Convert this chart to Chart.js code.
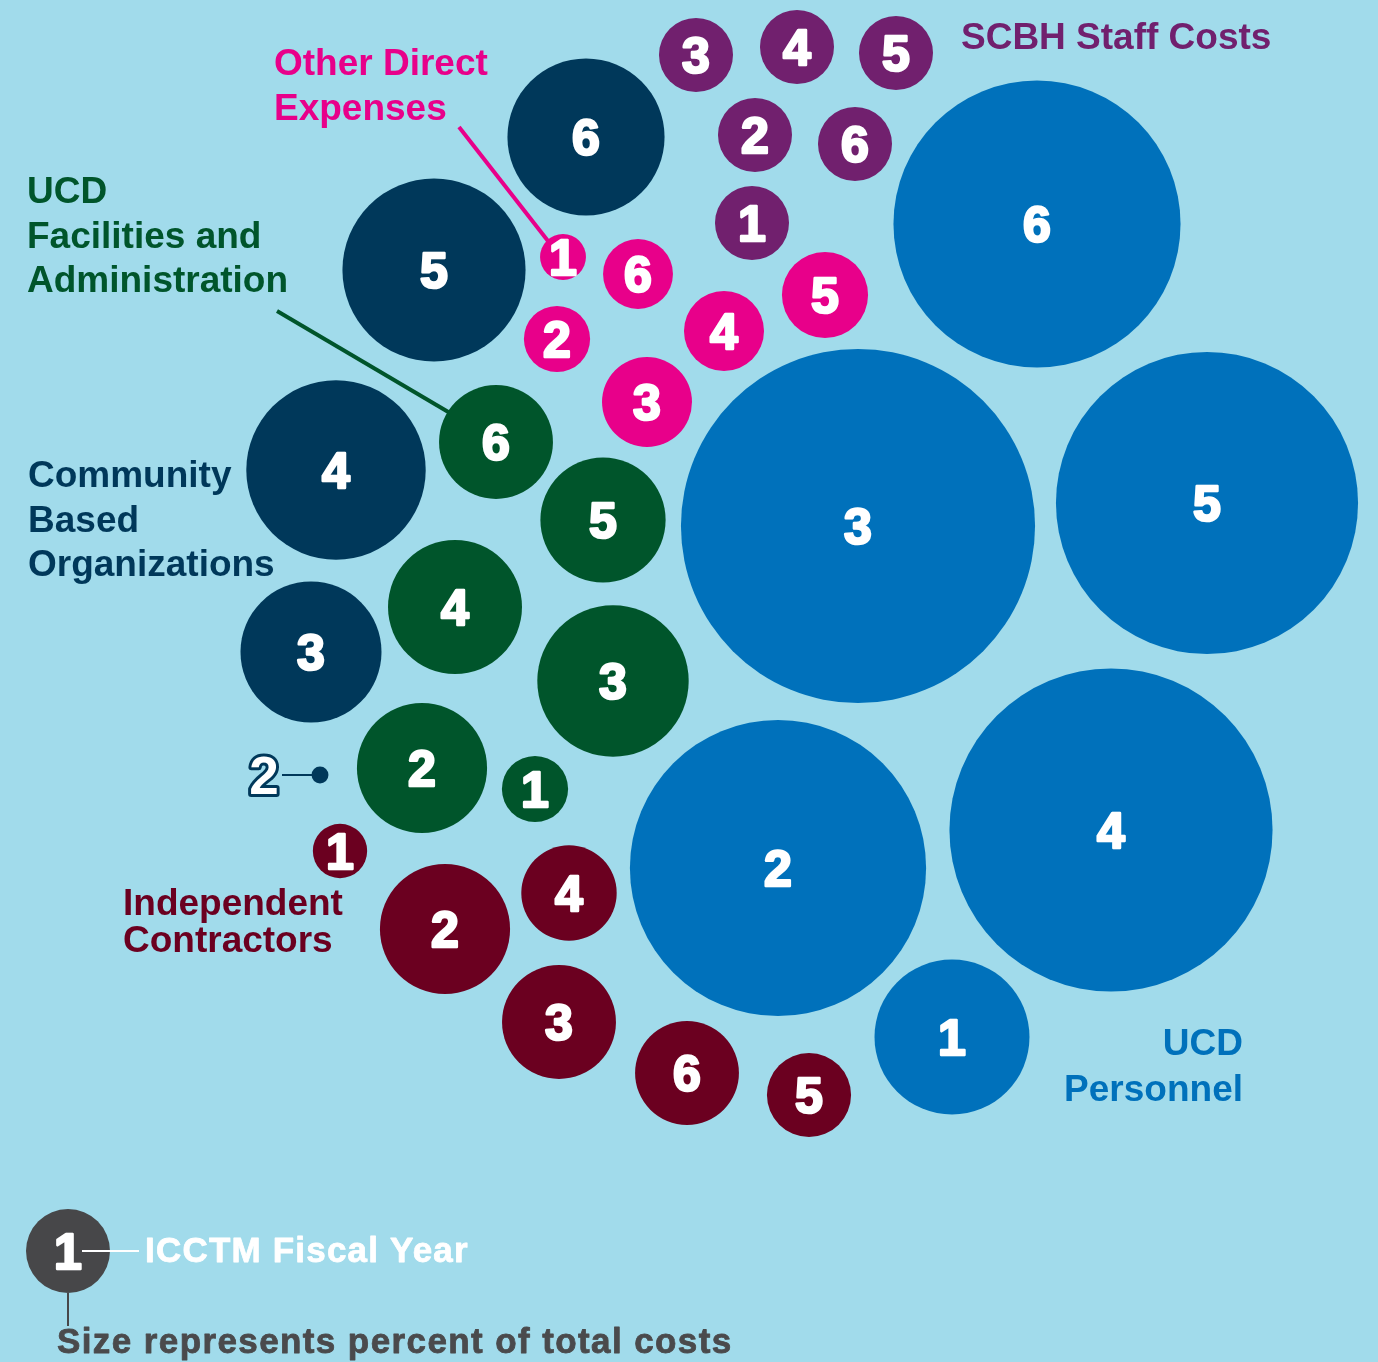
<!DOCTYPE html>
<html>
<head>
<meta charset="utf-8">
<title>ICCTM costs by fiscal year</title>
<script src="https://cdn.jsdelivr.net/npm/chart.js@4.4.1/dist/chart.umd.min.js"></script>
<style>
  html, body { margin: 0; padding: 0; background: #a1dbeb; }
  canvas { display: block; }
</style>
</head>
<body>
<canvas id="bubbles" width="1378" height="1362"></canvas>
<script>
const fiscalYears = ['1', '2', '3', '4', '5', '6'];

// percent of total costs, by fiscal year 1..6 (null = no spending that year)
const ucdPersonnel  = [2.85, 10.41, 14.88, 12.39, 10.83, 9.78];
const scbhStaff     = [0.65, 0.65, 0.65, 0.65, 0.65, 0.65];
const otherDirect   = [0.25, 0.52, 0.96, 0.76, 0.88, 0.58];
const ucdFacilities = [0.52, 2.01, 2.72, 2.13, 1.86, 1.54];
const communityOrgs = [null, 0.034, 2.36, 3.82, 3.98, 2.93];
const contractors   = [0.35, 2.01, 1.54, 1.08, 0.84, 1.28];

// packed layout (layout units, y grows downward), fiscal year 1..6
const ucdPersonnelX  = [952, 778, 858, 1111, 1207, 1037];
const ucdPersonnelY  = [1037, 868, 526, 830, 503, 224];
const scbhStaffX     = [752, 755, 696, 797, 896, 855];
const scbhStaffY     = [223, 135, 55, 47, 53, 144];
const otherDirectX   = [563, 557, 647, 724, 825, 638];
const otherDirectY   = [257, 339, 402, 331, 295, 274];
const ucdFacilitiesX = [535, 422, 613, 455, 603, 496];
const ucdFacilitiesY = [789, 768, 681, 607, 520, 442];
const communityOrgsX = [null, 320, 311, 336, 434, 586];
const communityOrgsY = [null, 775, 652, 470, 270, 137];
const contractorsX   = [340, 445, 559, 569, 809, 687];
const contractorsY   = [851, 929, 1022, 893, 1095, 1073];

const BG = '#a1dbeb';
const AREA_SCALE = 45.9;   // radius = AREA_SCALE * sqrt(percent)
const NUM_SIZE = 50;
const LABEL_FONT = 'bold 37px "Liberation Sans", Arial, sans-serif';

function series(values, xs, ys) {
    const pts = [];
    values.forEach((v, i) => {
        if (v == null) return;
        pts.push({ x: xs[i], y: ys[i], r: AREA_SCALE * Math.sqrt(v), year: fiscalYears[i] });
    });
    return pts;
}

function bubbleSet(label, color, values, xs, ys) {
    return {
        label: label,
        data: series(values, xs, ys),
        backgroundColor: color,
        borderWidth: 0,
        hoverBorderWidth: 0,
        clip: false
    };
}

const datasets = [
    bubbleSet('UCD Personnel', '#0071bb', ucdPersonnel, ucdPersonnelX, ucdPersonnelY),
    bubbleSet('SCBH Staff Costs', '#71206e', scbhStaff, scbhStaffX, scbhStaffY),
    bubbleSet('Other Direct Expenses', '#e8008a', otherDirect, otherDirectX, otherDirectY),
    bubbleSet('UCD Facilities and Administration', '#00552b', ucdFacilities, ucdFacilitiesX, ucdFacilitiesY),
    bubbleSet('Community Based Organizations', '#00385a', communityOrgs, communityOrgsX, communityOrgsY),
    bubbleSet('Independent Contractors', '#6b0020', contractors, contractorsX, contractorsY)
];

// text blocks naming each cost group
const groupLabels = [
    { lines: ['Other Direct', 'Expenses'], x: 274, y: [75, 120], color: '#e8008a', align: 'left' },
    { lines: ['SCBH Staff Costs'], x: 961, y: [49], color: '#71206e', align: 'left' },
    { lines: ['UCD', 'Facilities and', 'Administration'], x: 27, y: [203, 248, 292], color: '#00552b', align: 'left' },
    { lines: ['Community', 'Based', 'Organizations'], x: 28, y: [487, 532, 576], color: '#00385a', align: 'left' },
    { lines: ['Independent', 'Contractors'], x: 123, y: [915, 952], color: '#6b0020', align: 'left' },
    { lines: ['UCD', 'Personnel'], x: 1243, y: [1055, 1101], color: '#0071bb', align: 'right' }
];

const leaders = [
    { from: [459, 127], to: [548, 241], color: '#e8008a' },
    { from: [277, 311], to: [450, 413], color: '#00552b' }
];

function digit(ctx, text, x, y, outline) {
    const size = outline ? 53 : NUM_SIZE;
    ctx.font = 'bold ' + size + 'px "Liberation Sans", Arial, sans-serif';
    ctx.textAlign = 'center';
    ctx.textBaseline = 'alphabetic';
    ctx.lineJoin = 'round';
    ctx.letterSpacing = '0px';
    const by = y + 0.716 * size / 2;
    if (outline) {
        ctx.lineWidth = 6;
        ctx.strokeStyle = outline;
        ctx.strokeText(text, x, by);
        ctx.fillStyle = '#ffffff';
        ctx.fillText(text, x, by);
        return;
    }
    ctx.lineWidth = 2.5;
    ctx.strokeStyle = '#ffffff';
    ctx.strokeText(text, x, by);
    ctx.fillStyle = '#ffffff';
    ctx.fillText(text, x, by);
}

const decorations = {
    id: 'decorations',
    beforeDraw(chart) {
        const ctx = chart.ctx;
        ctx.save();
        ctx.fillStyle = BG;
        ctx.fillRect(0, 0, chart.width, chart.height);
        // leader lines from the group names to their first bubble
        ctx.lineWidth = 4;
        leaders.forEach(l => {
            ctx.strokeStyle = l.color;
            ctx.beginPath();
            ctx.moveTo(l.from[0], l.from[1]);
            ctx.lineTo(l.to[0], l.to[1]);
            ctx.stroke();
        });
        ctx.restore();
    },
    afterDatasetsDraw(chart) {
        const ctx = chart.ctx;
        ctx.save();
        chart.data.datasets.forEach((ds, di) => {
            const meta = chart.getDatasetMeta(di);
            meta.data.forEach((el, i) => {
                const raw = ds.data[i];
                if (raw.r < 15) {
                    // too small to hold its number: put it to the left
                    ctx.strokeStyle = ds.backgroundColor;
                    ctx.lineWidth = 2;
                    ctx.beginPath();
                    ctx.moveTo(el.x - 38, el.y);
                    ctx.lineTo(el.x - 8, el.y);
                    ctx.stroke();
                    digit(ctx, raw.year, el.x - 56, el.y, ds.backgroundColor);
                } else {
                    digit(ctx, raw.year, el.x, el.y, null);
                }
            });
        });

        ctx.font = LABEL_FONT;
        ctx.textBaseline = 'alphabetic';
        groupLabels.forEach(g => {
            ctx.fillStyle = g.color;
            ctx.textAlign = g.align;
            g.lines.forEach((line, k) => ctx.fillText(line, g.x, g.y[k]));
        });

        // key: numbered circle = fiscal year, size = share of costs
        const kx = 68, ky = 1251;
        ctx.fillStyle = '#474749';
        ctx.beginPath();
        ctx.arc(kx, ky, 42, 0, Math.PI * 2);
        ctx.fill();
        ctx.strokeStyle = '#474749';
        ctx.lineWidth = 2;
        ctx.beginPath();
        ctx.moveTo(kx, ky + 42);
        ctx.lineTo(kx, 1326);
        ctx.stroke();
        digit(ctx, '1', kx, ky, null);
        ctx.strokeStyle = '#ffffff';
        ctx.lineWidth = 2;
        ctx.beginPath();
        ctx.moveTo(82, ky);
        ctx.lineTo(139, ky);
        ctx.stroke();
        ctx.textAlign = 'left';
        ctx.font = 'bold 35px "Liberation Sans", Arial, sans-serif';
        ctx.letterSpacing = '1.2px';
        ctx.fillStyle = '#ffffff';
        ctx.lineWidth = 0.8;
        ctx.strokeStyle = '#ffffff';
        ctx.strokeText('ICCTM Fiscal Year', 145, 1262);
        ctx.fillText('ICCTM Fiscal Year', 145, 1262);
        ctx.letterSpacing = '1.4px';
        ctx.fillStyle = '#4a4a4c';
        ctx.strokeStyle = '#4a4a4c';
        ctx.strokeText('Size represents percent of total costs', 57, 1353);
        ctx.fillText('Size represents percent of total costs', 57, 1353);
        ctx.restore();
    }
};

new Chart(document.getElementById('bubbles'), {
    type: 'bubble',
    data: { datasets: datasets },
    options: {
        responsive: false,
        devicePixelRatio: 1,
        animation: false,
        events: [],
        layout: { padding: 0, autoPadding: false },
        scales: {
            x: { type: 'linear', min: 0, max: 1378, display: false },
            y: { type: 'linear', min: 0, max: 1362, reverse: true, display: false }
        },
        plugins: {
            legend: { display: false },
            tooltip: { enabled: false }
        }
    },
    plugins: [decorations]
});
</script>
</body>
</html>
